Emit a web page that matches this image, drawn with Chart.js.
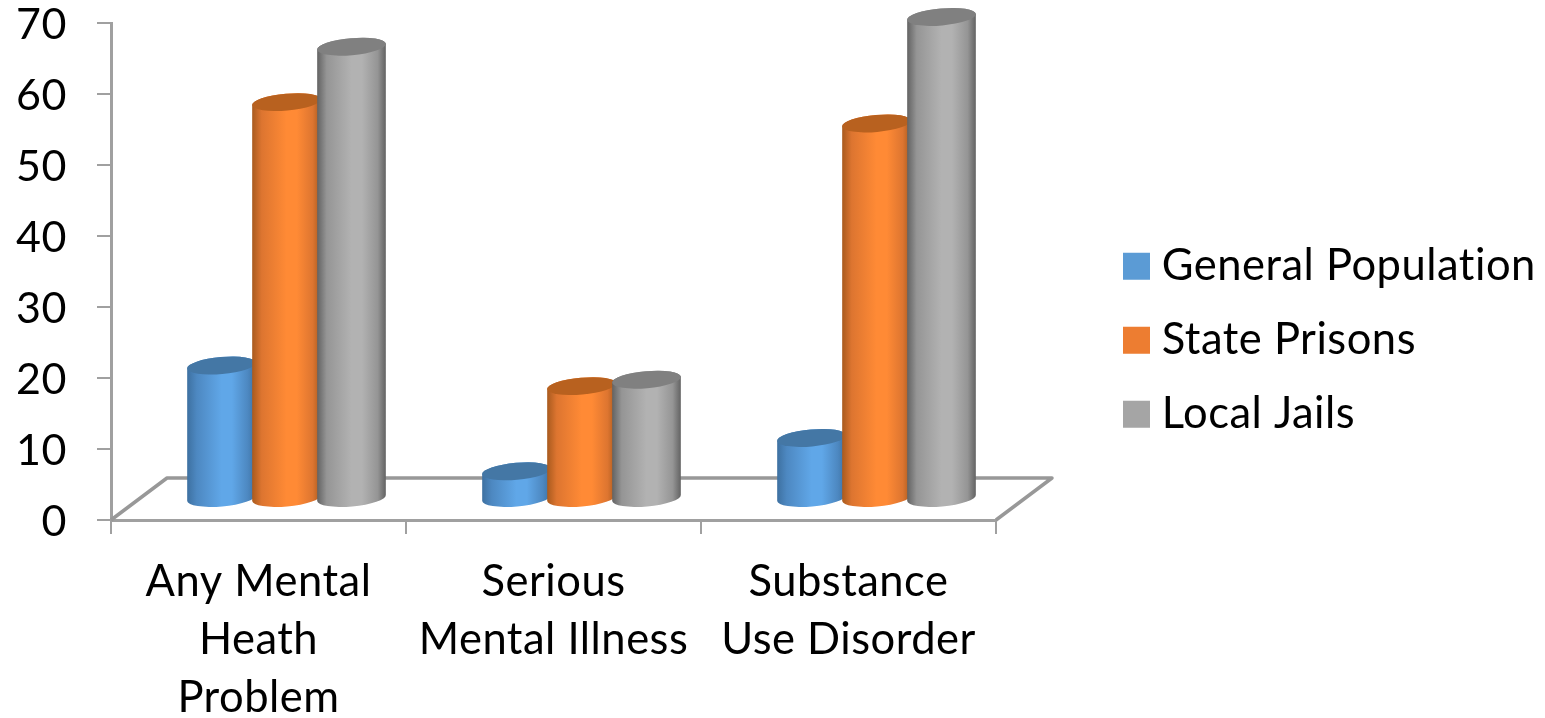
<!DOCTYPE html>
<html>
<head>
<meta charset="utf-8">
<title>Mental health and substance use by population</title>
<script src="https://cdn.jsdelivr.net/npm/chart.js@4"></script>
<style>
  html, body { margin: 0; padding: 0; background: #fff; }
  #wrap { width: 1545px; height: 718px; }
</style>
</head>
<body>
<div id="wrap"><canvas id="chart" width="1545" height="718"></canvas></div>
<script>
const categories = [
  ['Any Mental', 'Heath', 'Problem'],
  ['Serious', 'Mental Illness'],
  ['Substance', 'Use Disorder']
];
const seriesNames = ['General Population', 'State Prisons', 'Local Jails'];
const generalPopulation = [18.8, 3.9, 8.6];
const statePrisons = [55.9, 15.9, 52.9];
const localJails = [63.7, 16.8, 67.9];
const legendColors = ['#5B9BD5', '#ED7D31', '#A5A5A5'];

// Shading for each series: cylinder wall edge, shoulder, highlight, top cap.
const shades = [
  { edge: '#3d70a0', shoulder: '#4d88c1', mid: '#60a7e8', cap: '#4477a5' },
  { edge: '#a85a1e', shoulder: '#dd7530', mid: '#ff8a35', cap: '#b8611f' },
  { edge: '#626262', shoulder: '#959595', mid: '#b2b2b2', cap: '#808080' }
];

// Oblique projection of the floor: how far back it recedes.
const DEPTH_X = 56;
const DEPTH_Y = 42;
const CAP_RY = 8.5;
const CAP_TILT = -5 * Math.PI / 180;
const AXIS_COLOR = '#a0a0a0';
const FONT = 'Lato, Carlito, sans-serif';
const LABEL_SIZE = 43.5;

function drawFloor(ctx, area) {
  ctx.save();
  ctx.strokeStyle = '#989898';
  ctx.lineJoin = 'round';
  ctx.lineWidth = 3.5;
  ctx.beginPath();
  ctx.moveTo(area.left, area.bottom);
  ctx.lineTo(area.left + DEPTH_X, area.bottom - DEPTH_Y);
  ctx.lineTo(area.right + DEPTH_X, area.bottom - DEPTH_Y);
  ctx.lineTo(area.right, area.bottom);
  ctx.stroke();
  ctx.restore();
}

function drawCylinder(ctx, bar, shade) {
  const { x, y, base, width } = bar.getProps(['x', 'y', 'base', 'width'], true);
  const cx = x + DEPTH_X / 2;
  const top = y - DEPTH_Y / 2;
  const bottom = base - DEPTH_Y / 2;
  const rx = width / 2;

  const wall = ctx.createLinearGradient(cx - rx, 0, cx + rx, 0);
  wall.addColorStop(0, shade.edge);
  wall.addColorStop(0.14, shade.shoulder);
  wall.addColorStop(0.5, shade.mid);
  wall.addColorStop(0.65, shade.mid);
  wall.addColorStop(0.88, shade.shoulder);
  wall.addColorStop(1, shade.edge);

  ctx.beginPath();
  ctx.ellipse(cx, bottom, rx, CAP_RY, CAP_TILT, 0, Math.PI);
  ctx.ellipse(cx, top, rx, CAP_RY, CAP_TILT, Math.PI, 2 * Math.PI);
  ctx.closePath();
  ctx.fillStyle = wall;
  ctx.fill();

  ctx.beginPath();
  ctx.ellipse(cx, top, rx, CAP_RY, CAP_TILT, 0, 2 * Math.PI);
  ctx.fillStyle = shade.cap;
  ctx.fill();
}

// Replaces the flat bars with cylinders standing on the receding floor.
const cylinders = {
  id: 'cylinders',
  beforeDatasetsDraw(chart) {
    const ctx = chart.ctx;
    drawFloor(ctx, chart.chartArea);
    ctx.save();
    chart.data.labels.forEach((_, i) => {
      chart.data.datasets.forEach((_, d) => {
        drawCylinder(ctx, chart.getDatasetMeta(d).data[i], shades[d]);
      });
    });
    ctx.restore();
    return false;
  }
};

// Puts the legend column beside the plot instead of against the page edge.
const legendPlacement = {
  id: 'legendPlacement',
  afterLayout(chart) {
    const legend = chart.legend;
    const shift = 259.75 - (legend.top + (legend.bottom - legend.top - legend.columnSizes[0].height) / 2 + 30.5);
    legend.left = 1102.5;
    legend.right = 1545;
    legend.top += shift;
    legend.bottom += shift;
  }
};

// Slight tracking on all text, which also keeps ligatures from forming.
const textTracking = {
  id: 'textTracking',
  beforeUpdate(chart) { chart.ctx.letterSpacing = '0.5px'; },
  beforeDraw(chart) { chart.ctx.letterSpacing = '0.5px'; }
};

new Chart(document.getElementById('chart'), {
  type: 'bar',
  data: {
    labels: categories,
    datasets: [generalPopulation, statePrisons, localJails].map((values, i) => ({
      label: seriesNames[i],
      data: values,
      backgroundColor: legendColors[i],
      borderWidth: 0,
      categoryPercentage: 0.661,
      barPercentage: 1.06
    }))
  },
  options: {
    responsive: false,
    animation: false,
    layout: { padding: { top: 23, right: 217, bottom: 0, left: 0 } },
    plugins: {
      tooltip: { enabled: false },
      legend: {
        position: 'right',
        align: 'center',
        maxWidth: 332,
        labels: {
          usePointStyle: true,
          pointStyle: 'rect',
          boxWidth: 7,
          boxHeight: 27,
          padding: 30.5,
          color: '#000',
          font: { family: FONT, size: LABEL_SIZE }
        }
      }
    },
    scales: {
      x: {
        grid: { drawOnChartArea: false, drawTicks: true, tickLength: 14, color: AXIS_COLOR, lineWidth: 2 },
        border: { display: true, color: AXIS_COLOR, width: 3 },
        ticks: {
          color: '#000',
          padding: 19,
          maxRotation: 0,
          autoSkip: false,
          font: { family: FONT, size: LABEL_SIZE, lineHeight: 1.333 }
        },
        afterFit(scale) {
          scale.height = 198;
          scale.paddingLeft = 0;
          scale.paddingRight = 0;
        }
      },
      y: {
        min: 0,
        max: 70,
        grid: { drawOnChartArea: false, drawTicks: true, tickLength: 14, color: AXIS_COLOR, lineWidth: 2 },
        border: { display: true, color: AXIS_COLOR, width: 3 },
        ticks: {
          stepSize: 10,
          color: '#000',
          padding: 30,
          labelOffset: 2,
          font: { family: FONT, size: 43 }
        },
        afterFit(scale) {
          scale.width = 111;
          scale.paddingTop = 0;
          scale.paddingBottom = 0;
        }
      }
    }
  },
  plugins: [textTracking, cylinders, legendPlacement]
});
</script>
</body>
</html>
